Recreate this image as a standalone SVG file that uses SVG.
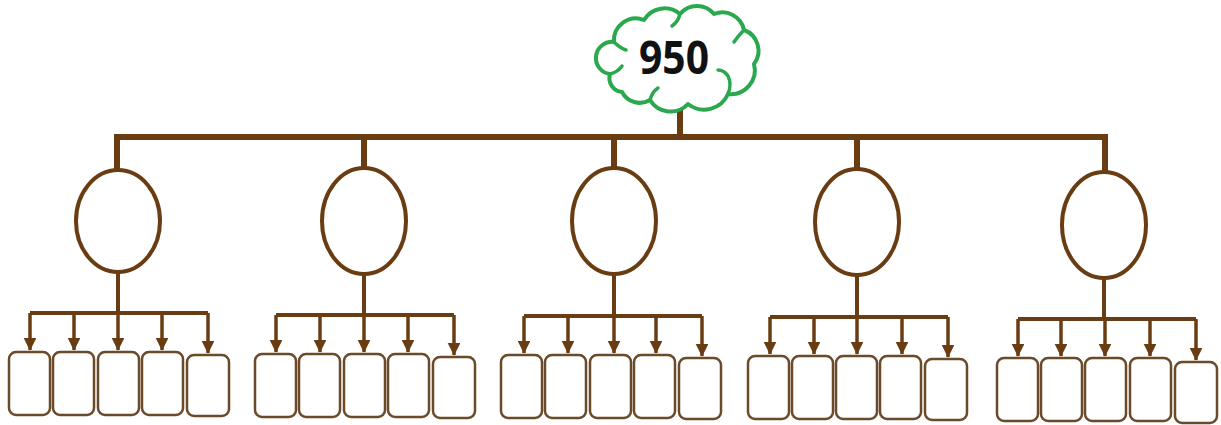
<svg xmlns="http://www.w3.org/2000/svg" width="1221" height="425" viewBox="0 0 1221 425">
<style>
.bar{stroke:#6a3c12;stroke-width:6;fill:none;stroke-linecap:square}
.sub{stroke:#6a3c12;stroke-width:4;fill:none}
.arr{stroke:#6a3c12;stroke-width:3.5;fill:none;marker-end:url(#ah)}
.ell{stroke:#6a3c12;stroke-width:4;fill:#fff}
.box{stroke:#6b4a2a;stroke-width:2.5;fill:#fff}
.cloud{stroke:#2aa84e;stroke-width:4;fill:#fff;stroke-linejoin:round;stroke-linecap:round}
.curl{stroke:#2aa84e;stroke-width:3.5;fill:none;stroke-linecap:round}
.t{font-family:"Open Sans","Liberation Sans",sans-serif;font-weight:bold;font-size:46px;fill:#111}
</style>
<defs>
<marker id="ah" markerWidth="3.8" markerHeight="3.8" refX="3.4" refY="1.8" orient="auto" markerUnits="strokeWidth">
<path d="M0,0 L3.6,1.8 L0,3.6 Z" fill="#6a3c12"/>
</marker>
</defs>
<rect width="1221" height="425" fill="#fff"/>
<g id="connectors">
<path class="bar" d="M680,104 V137 M117,137 H1105 M117,137 V170 M364,137 V169 M614,137 V169 M857,137 V169 M1105,137 V172"/>
<path class="sub" d="M118,272 V313 M30,313 H208 M364,274 V315 M276,315 H454 M614,274 V316 M524,316 H702 M857,275 V317 M770,317 H948 M1104,278 V319 M1018,319 H1196"/>
<line class="arr" x1="30" y1="313" x2="30" y2="350"/>
<line class="arr" x1="74" y1="313" x2="74" y2="350"/>
<line class="arr" x1="118" y1="313" x2="118" y2="350"/>
<line class="arr" x1="162" y1="313" x2="162" y2="350"/>
<line class="arr" x1="208" y1="313" x2="208" y2="353"/>
<line class="arr" x1="276" y1="315" x2="276" y2="352"/>
<line class="arr" x1="320" y1="315" x2="320" y2="352"/>
<line class="arr" x1="364" y1="315" x2="364" y2="352"/>
<line class="arr" x1="408" y1="315" x2="408" y2="352"/>
<line class="arr" x1="454" y1="315" x2="454" y2="355"/>
<line class="arr" x1="524" y1="316" x2="524" y2="353"/>
<line class="arr" x1="568" y1="316" x2="568" y2="353"/>
<line class="arr" x1="614" y1="316" x2="614" y2="353"/>
<line class="arr" x1="656" y1="316" x2="656" y2="353"/>
<line class="arr" x1="702" y1="316" x2="702" y2="356"/>
<line class="arr" x1="770" y1="317" x2="770" y2="354"/>
<line class="arr" x1="814" y1="317" x2="814" y2="354"/>
<line class="arr" x1="857" y1="317" x2="857" y2="354"/>
<line class="arr" x1="902" y1="317" x2="902" y2="354"/>
<line class="arr" x1="948" y1="317" x2="948" y2="357"/>
<line class="arr" x1="1018" y1="319" x2="1018" y2="356"/>
<line class="arr" x1="1061" y1="319" x2="1061" y2="356"/>
<line class="arr" x1="1105" y1="319" x2="1105" y2="356"/>
<line class="arr" x1="1150" y1="319" x2="1150" y2="356"/>
<line class="arr" x1="1196" y1="319" x2="1196" y2="360"/>
</g>
<g id="root">
<path class="cloud" d="M610,74 A16,16 0 0 1 614,42 A22,22 0 0 1 644,20 A24,24 0 0 1 680,14 A22,22 0 0 1 714,14 A22,22 0 0 1 744,30 A22,22 0 0 1 754,64 A24,24 0 0 1 728,94 A26,26 0 0 1 688,104 A24,24 0 0 1 650,100 A20,20 0 0 1 622,92 A14,14 0 0 1 610,74 Z"/>
<path class="curl" d="M614,42 Q620,48 626,50 M680,14 Q678,22 672,26 M744,30 Q738,36 734,42 M728,94 Q732,84 728,76 Q724,70 718,70 M650,100 Q652,92 658,88 M610,74 Q618,72 622,66"/>
<text class="t" x="674" y="74" text-anchor="middle" textLength="70" lengthAdjust="spacingAndGlyphs">950</text>
</g>
<g id="node-a"><ellipse class="ell" cx="118" cy="221" rx="42" ry="51"/></g>
<g id="node-b"><ellipse class="ell" cx="364" cy="221" rx="42" ry="53"/></g>
<g id="node-c"><ellipse class="ell" cx="614" cy="221" rx="42" ry="53"/></g>
<g id="node-d"><ellipse class="ell" cx="857" cy="222" rx="42" ry="53"/></g>
<g id="node-e"><ellipse class="ell" cx="1104" cy="225" rx="42" ry="53"/></g>
<g id="boxes-a">
<rect class="box" x="9" y="352" width="41" height="63" rx="7"/>
<rect class="box" x="53" y="352" width="41" height="63" rx="7"/>
<rect class="box" x="98" y="352" width="41" height="63" rx="7"/>
<rect class="box" x="142" y="352" width="41" height="63" rx="7"/>
<rect class="box" x="187" y="355" width="42" height="61" rx="7"/>
</g>
<g id="boxes-b">
<rect class="box" x="255" y="354" width="41" height="63" rx="7"/>
<rect class="box" x="299" y="354" width="41" height="63" rx="7"/>
<rect class="box" x="344" y="354" width="41" height="63" rx="7"/>
<rect class="box" x="388" y="354" width="41" height="63" rx="7"/>
<rect class="box" x="433" y="357" width="42" height="61" rx="7"/>
</g>
<g id="boxes-c">
<rect class="box" x="501" y="355" width="41" height="63" rx="7"/>
<rect class="box" x="545" y="355" width="41" height="63" rx="7"/>
<rect class="box" x="590" y="355" width="41" height="63" rx="7"/>
<rect class="box" x="634" y="355" width="41" height="63" rx="7"/>
<rect class="box" x="679" y="358" width="42" height="61" rx="7"/>
</g>
<g id="boxes-d">
<rect class="box" x="748" y="356" width="41" height="63" rx="7"/>
<rect class="box" x="792" y="356" width="41" height="63" rx="7"/>
<rect class="box" x="836" y="356" width="41" height="63" rx="7"/>
<rect class="box" x="880" y="356" width="41" height="63" rx="7"/>
<rect class="box" x="925" y="359" width="42" height="61" rx="7"/>
</g>
<g id="boxes-e">
<rect class="box" x="997" y="358" width="41" height="63" rx="7"/>
<rect class="box" x="1041" y="358" width="41" height="63" rx="7"/>
<rect class="box" x="1085" y="358" width="41" height="63" rx="7"/>
<rect class="box" x="1130" y="358" width="41" height="63" rx="7"/>
<rect class="box" x="1175" y="362" width="42" height="61" rx="7"/>
</g>
</svg>
